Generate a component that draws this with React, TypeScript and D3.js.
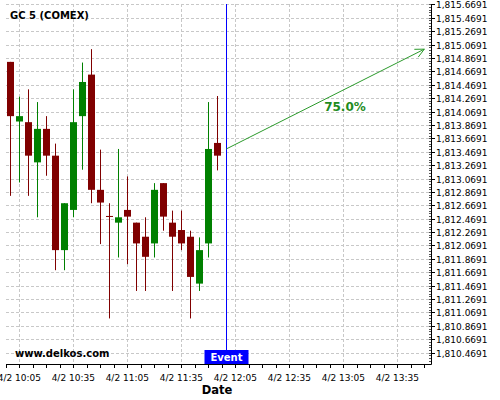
import React, { useEffect, useRef } from "react";
import * as d3 from "d3";

// 5 minute candles, 4/2 10:00 .. 11:55
const START_TIME = new Date(2021, 3, 2, 10, 0);
const STEP_MIN = 5;
const opens = [1814.81, 1813.92, 1813.91, 1813.31, 1813.81, 1813.41, 1812.0, 1812.6, 1814.0, 1814.62, 1812.9, 1812.51,
  1812.41, 1812.6, 1812.41, 1812.2, 1812.1, 1813.0, 1812.41, 1812.3, 1812.2, 1811.5, 1812.1, 1813.6];
const highs = [1814.81, 1814.29, 1814.4, 1814.21, 1814.0, 1813.59, 1812.7, 1814.4, 1814.8, 1815.0, 1813.5, 1812.7,
  1813.51, 1813.1, 1812.41, 1812.49, 1813.0, 1813.0, 1812.59, 1812.59, 1812.29, 1812.19, 1814.21, 1814.3];
const lows = [1812.81, 1813.01, 1812.81, 1812.49, 1813.11, 1811.7, 1811.7, 1812.49, 1813.2, 1812.7, 1812.09, 1810.98,
  1811.89, 1811.79, 1811.39, 1811.39, 1811.89, 1812.29, 1811.39, 1812.0, 1810.98, 1811.39, 1811.89, 1813.19];
const closes = [1814.0, 1814.0, 1813.41, 1813.81, 1813.41, 1812.0, 1812.7, 1813.91, 1814.51, 1812.9, 1812.71, 1812.51,
  1812.49, 1812.5, 1812.1, 1811.9, 1812.9, 1812.5, 1812.2, 1812.1, 1811.6, 1812.0, 1813.51, 1813.41];

const yTicks = d3.range(27).map(i => 1810.4691 + i * 0.2);
const xTickTimes = [
  new Date(2021, 3, 2, 10, 5), new Date(2021, 3, 2, 10, 35), new Date(2021, 3, 2, 11, 5), new Date(2021, 3, 2, 11, 35),
  new Date(2021, 3, 2, 12, 5), new Date(2021, 3, 2, 12, 35), new Date(2021, 3, 2, 13, 5), new Date(2021, 3, 2, 13, 35),
];
const eventTime = new Date(2021, 3, 2, 12, 0);
const arrowFrom = { t: new Date(2021, 3, 2, 12, 0), v: 1813.51 };
const arrowTo = { t: new Date(2021, 3, 2, 13, 50), v: 1815.0 };
const arrowLabel = "75.0%";
const title = "GC 5 (COMEX)";

const LEFT = 6;
const RIGHT = 431;
const TOP = 4;
const BOTTOM = 364;
const UP = "#008000";
const DOWN = "#800000";
const ARROW = "#2b9a2b";
const FONT = "DejaVu Sans, sans-serif";

const App = () => {
  const ref = useRef<SVGSVGElement>(null);

  useEffect(() => {
    const svg = d3.select(ref.current);
    svg.selectAll("*").remove();

    const x = d3.scaleTime()
      .domain([new Date(2021, 3, 2, 9, 57, 37), new Date(2021, 3, 2, 13, 53, 42)])
      .range([LEFT, RIGHT]);
    const y = d3.scaleLinear().domain([1810.3, 1815.674]).range([BOTTOM, TOP]);

    const times = opens.map((_, i) => d3.timeMinute.offset(START_TIME, i * STEP_MIN));

    // grid
    const grid = svg.append("g")
      .attr("stroke", "#c8c8c8")
      .attr("stroke-width", 1)
      .attr("stroke-dasharray", "3,2");
    yTicks.forEach(v => {
      const yy = Math.round(y(v)) + 0.5;
      grid.append("line").attr("x1", LEFT).attr("x2", RIGHT).attr("y1", yy).attr("y2", yy);
    });
    xTickTimes.forEach(t => {
      const xx = Math.round(x(t)) + 0.5;
      grid.append("line").attr("x1", xx).attr("x2", xx).attr("y1", TOP).attr("y2", BOTTOM);
    });

    // candles
    times.forEach((t, i) => {
      const cx = Math.round(x(t)) + 0.5;
      const o = opens[i], c = closes[i];
      const colour = c > o ? UP : DOWN;
      svg.append("line")
        .attr("x1", cx).attr("x2", cx)
        .attr("y1", y(highs[i])).attr("y2", y(lows[i]))
        .attr("stroke", colour).attr("stroke-width", 1);
      const top = y(Math.max(o, c));
      const h = Math.max(1, y(Math.min(o, c)) - top);
      svg.append("rect")
        .attr("x", cx - 3.5).attr("width", 7)
        .attr("y", top).attr("height", h)
        .attr("fill", colour);
    });

    // event line
    const ex = Math.round(x(eventTime)) + 0.5;
    svg.append("line")
      .attr("x1", ex).attr("x2", ex).attr("y1", TOP).attr("y2", 350)
      .attr("stroke", "#0000ff").attr("stroke-width", 1);
    svg.append("rect")
      .attr("x", ex - 22).attr("y", 350).attr("width", 44).attr("height", 14)
      .attr("fill", "#0000ff");
    svg.append("text")
      .attr("x", ex).attr("y", 361)
      .attr("text-anchor", "middle")
      .attr("fill", "white")
      .style("font", `bold 10px ${FONT}`)
      .text("Event");

    // arrow
    const x1 = x(arrowFrom.t), y1 = y(arrowFrom.v), x2 = x(arrowTo.t), y2 = y(arrowTo.v);
    svg.append("line")
      .attr("x1", x1).attr("y1", y1).attr("x2", x2).attr("y2", y2)
      .attr("stroke", ARROW).attr("stroke-width", 1);
    const ang = Math.atan2(y2 - y1, x2 - x1);
    const head = 10;
    [0.45, -0.45].forEach(d => {
      svg.append("line")
        .attr("x1", x2).attr("y1", y2)
        .attr("x2", x2 - head * Math.cos(ang + d))
        .attr("y2", y2 - head * Math.sin(ang + d))
        .attr("stroke", ARROW).attr("stroke-width", 1);
    });
    svg.append("text")
      .attr("x", 345).attr("y", 111)
      .attr("text-anchor", "middle")
      .attr("fill", "#1e8c1e")
      .style("font", `bold 12px ${FONT}`)
      .text(arrowLabel);

    // axes
    svg.append("line")
      .attr("x1", LEFT).attr("x2", RIGHT + 0.5).attr("y1", BOTTOM + 0.5).attr("y2", BOTTOM + 0.5)
      .attr("stroke", "black");
    svg.append("line")
      .attr("x1", RIGHT + 0.5).attr("x2", RIGHT + 0.5).attr("y1", TOP).attr("y2", BOTTOM + 0.5)
      .attr("stroke", "black");

    // x ticks, minor every 7.5 min
    const minorStart = d3.timeSecond.offset(xTickTimes[0], -450);
    for (let k = 0; k < 40; k++) {
      const t = d3.timeSecond.offset(minorStart, k * 450);
      const xx = Math.round(x(t)) + 0.5;
      if (xx < LEFT || xx > RIGHT) continue;
      svg.append("line")
        .attr("x1", xx).attr("x2", xx).attr("y1", BOTTOM).attr("y2", BOTTOM + 4)
        .attr("stroke", "black");
    }
    const fmt = d3.timeFormat("%-m/%-d %H:%M");
    xTickTimes.forEach(t => {
      svg.append("text")
        .attr("x", x(t)).attr("y", 381)
        .attr("text-anchor", "middle")
        .style("font", `9px ${FONT}`)
        .text(fmt(t));
    });

    // y ticks
    const yfmt = d3.format(",.4f");
    d3.range(27 * 5).forEach(k => {
      const v = 1810.4691 - 0.12 + k * 0.04;
      const yy = Math.round(y(v)) + 0.5;
      if (yy < TOP || yy > BOTTOM) return;
      svg.append("line")
        .attr("x1", RIGHT - 2).attr("x2", RIGHT).attr("y1", yy).attr("y2", yy)
        .attr("stroke", "#555");
    });
    yTicks.forEach(v => {
      const yy = Math.round(y(v)) + 0.5;
      svg.append("line")
        .attr("x1", RIGHT).attr("x2", RIGHT + 4).attr("y1", yy).attr("y2", yy)
        .attr("stroke", "black");
      svg.append("text")
        .attr("x", 436).attr("y", yy + 3.3)
        .style("font", `9px ${FONT}`)
        .text(yfmt(v));
    });

    // labels
    svg.append("text")
      .attr("x", 10).attr("y", 19)
      .style("font", `bold 10px ${FONT}`)
      .text(title);
    svg.append("text")
      .attr("x", 15).attr("y", 357)
      .style("font", `bold 10px ${FONT}`)
      .text("www.delkos.com");
    svg.append("text")
      .attr("x", 217).attr("y", 394)
      .attr("text-anchor", "middle")
      .style("font", `bold 11.5px ${FONT}`)
      .text("Date");
  }, []);

  return (
    <svg ref={ref} width={500} height={400}
      style={{ position: "absolute", left: 0, top: 0, background: "white" }} />
  );
};

export default App;
